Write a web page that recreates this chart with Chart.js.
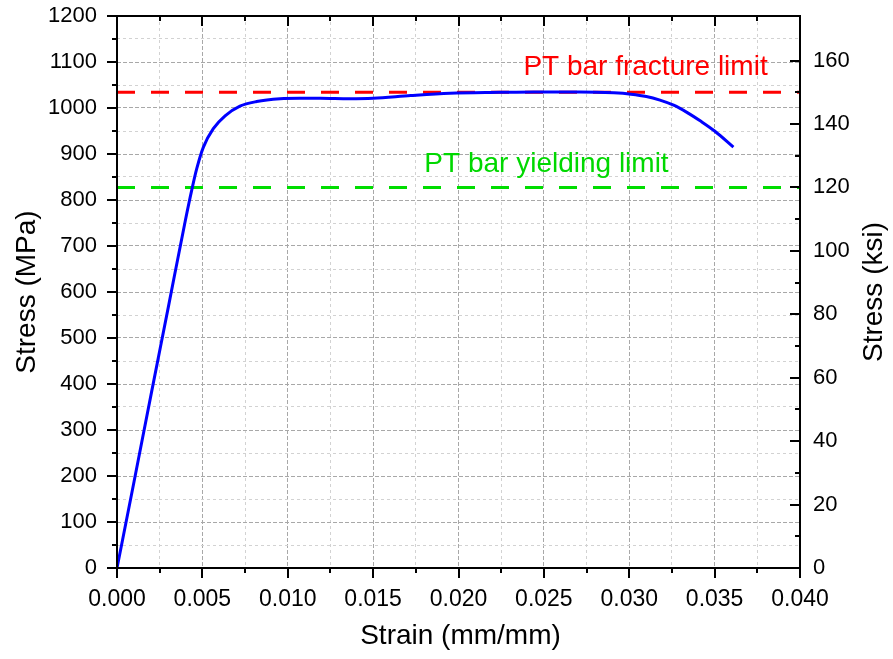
<!DOCTYPE html>
<html>
<head>
<meta charset="utf-8">
<title>Stress-strain curve</title>
<script src="https://cdn.jsdelivr.net/npm/chart.js@4.4.1/dist/chart.umd.min.js"></script>
<style>
  html, body { margin: 0; padding: 0; background: #fff; }
  #wrap { width: 893px; height: 659px; position: relative; }
</style>
</head>
<body>
<div id="wrap"><canvas id="stressChart"></canvas></div>
<script>
// ---- data ----
const strain = [0, 0.0010, 0.0020, 0.0030, 0.0040, 0.00438, 0.00467, 0.00506, 0.00564, 0.00633,
                0.0072, 0.00818, 0.00955, 0.0107, 0.0119, 0.0136, 0.0150, 0.0172, 0.0195, 0.0224,
                0.0244, 0.0271, 0.0291, 0.0301, 0.0310, 0.0318, 0.0326, 0.0334, 0.0342, 0.0350, 0.0361];
const stressMPa = [0, 188, 378, 566, 755, 822, 868, 915, 955, 983,
                   1004, 1014, 1020, 1021, 1021, 1020, 1021, 1027, 1032, 1034,
                   1035, 1035, 1033, 1030, 1025, 1017, 1006, 990, 971, 950, 915];

const MPA_PER_KSI = 6.894757;
const fractureLimitKsi = 150;
const yieldLimitKsi = 120;
const limitStrain = [0, 0.04];

const xMajorTicks = [0, 0.005, 0.010, 0.015, 0.020, 0.025, 0.030, 0.035, 0.040];
const yMajorTicks = [0, 100, 200, 300, 400, 500, 600, 700, 800, 900, 1000, 1100, 1200];
const ksiMajorTicks = [0, 20, 40, 60, 80, 100, 120, 140, 160];

const FONT = "'Liberation Sans', Arial, sans-serif";
const GRID_MAJOR = '#a8a8a8';
const GRID_MINOR = '#d2d2d2';

const onList = (list, v, tol) => list.some(m => Math.abs(m - v) < tol);

const curvePoints = strain.map((s, i) => ({ x: s, y: stressMPa[i] }));
const limitLine = ksi => limitStrain.map(s => ({ x: s, y: ksi * MPA_PER_KSI }));

// ---- frame, ticks, titles and labels ----
const frameAndText = {
    id: 'frameAndText',
    afterDatasetsDraw(chart) {
        const { ctx, scales: { x, y } } = chart;
        ctx.save();
        ctx.font = '28px ' + FONT;
        ctx.textBaseline = 'alphabetic';
        ctx.textAlign = 'left';
        ctx.fillStyle = '#ff0000';
        ctx.fillText('PT bar fracture limit', x.getPixelForValue(0.0238), y.getPixelForValue(1072));
        ctx.fillStyle = '#00d800';
        ctx.fillText('PT bar yielding limit', x.getPixelForValue(0.0180), y.getPixelForValue(861));
        ctx.restore();
    },
    afterDraw(chart) {
        const { ctx, chartArea: a, scales: { x, y, y2 } } = chart;
        ctx.save();
        ctx.strokeStyle = '#000';
        ctx.lineWidth = 2;
        ctx.lineCap = 'butt';
        ctx.beginPath();
        // bottom (outward) and top (inward) ticks
        x.ticks.forEach(t => {
            const px = Math.round(x.getPixelForValue(t.value));
            const len = onList(xMajorTicks, t.value, 1e-7) ? 10 : 5;
            ctx.moveTo(px, a.bottom); ctx.lineTo(px, a.bottom + len);
            ctx.moveTo(px, a.top); ctx.lineTo(px, a.top + len);
        });
        // left ticks (outward)
        y.ticks.forEach(t => {
            const py = Math.round(y.getPixelForValue(t.value));
            const len = onList(yMajorTicks, t.value, 1e-6) ? 10 : 5;
            ctx.moveTo(a.left, py); ctx.lineTo(a.left - len, py);
        });
        // right ticks (inward, ksi)
        y2.ticks.forEach(t => {
            if (Math.abs(t.value / 10 - Math.round(t.value / 10)) > 1e-6) return;
            const py = Math.round(y2.getPixelForValue(t.value));
            const len = onList(ksiMajorTicks, t.value, 1e-6) ? 10 : 5;
            ctx.moveTo(a.right, py); ctx.lineTo(a.right - len, py);
        });
        ctx.stroke();
        ctx.strokeRect(a.left, a.top, a.right - a.left, a.bottom - a.top);

        // axis titles
        ctx.fillStyle = '#000';
        ctx.font = '28px ' + FONT;
        ctx.textAlign = 'center';
        ctx.textBaseline = 'middle';
        const midY = (a.top + a.bottom) / 2;
        ctx.fillText('Strain (mm/mm)', (a.left + a.right) / 2 + 2, 636);
        [[27, 'Stress (MPa)'], [874, 'Stress (ksi)']].forEach(([cx, txt]) => {
            ctx.save();
            ctx.translate(cx, midY);
            ctx.rotate(-Math.PI / 2);
            ctx.fillText(txt, 0, 0);
            ctx.restore();
        });
        ctx.restore();
    }
};

const gridColor = (list, tol) => c => (c.tick && onList(list, c.tick.value, tol)) ? GRID_MAJOR : GRID_MINOR;
const gridDash = (list, tol) => c => (c.tick && onList(list, c.tick.value, tol)) ? [4, 2] : [3, 3];

// keep the plot box where the reference has it
const fitVertical = w => s => { s.width = w; s.paddingTop = 0; s.paddingBottom = 0; };

new Chart(document.getElementById('stressChart'), {
    type: 'line',
    data: {
        datasets: [
            {
                label: 'Stress',
                data: curvePoints,
                borderColor: '#0000ff',
                borderWidth: 3,
                pointRadius: 0,
                cubicInterpolationMode: 'monotone',
                order: 0
            },
            {
                label: 'PT bar fracture limit',
                data: limitLine(fractureLimitKsi),
                borderColor: '#ff0000',
                borderWidth: 3,
                borderDash: [18, 16],
                pointRadius: 0,
                order: 1
            },
            {
                label: 'PT bar yielding limit',
                data: limitLine(yieldLimitKsi),
                borderColor: '#00dd00',
                borderWidth: 3,
                borderDash: [18, 16],
                pointRadius: 0,
                order: 1
            }
        ]
    },
    options: {
        responsive: true,
        maintainAspectRatio: false,
        animation: false,
        layout: { padding: { top: 16, left: 0, right: 0, bottom: 0 } },
        plugins: { legend: { display: false }, tooltip: { enabled: false } },
        scales: {
            x: {
                type: 'linear',
                position: 'bottom',
                min: 0,
                max: 0.04,
                afterFit(s) { s.height = 91; s.paddingLeft = 0; s.paddingRight = 0; },
                grid: { color: gridColor(xMajorTicks, 1e-7), drawTicks: false, lineWidth: 1 },
                border: { display: false, dash: gridDash(xMajorTicks, 1e-7) },
                ticks: {
                    stepSize: 0.0025,
                    autoSkip: false,
                    maxRotation: 0,
                    padding: 18,
                    color: '#000',
                    font: { family: FONT, size: 23 },
                    callback: v => onList(xMajorTicks, v, 1e-7) ? v.toFixed(3) : ''
                }
            },
            y: {
                type: 'linear',
                position: 'left',
                min: 0,
                max: 1200,
                afterFit: fitVertical(117),
                grid: { color: gridColor(yMajorTicks, 1e-6), drawTicks: false, lineWidth: 1 },
                border: { display: false, dash: gridDash(yMajorTicks, 1e-6) },
                ticks: {
                    stepSize: 50,
                    autoSkip: false,
                    padding: 20,
                    color: '#000',
                    font: { family: FONT, size: 22 },
                    callback: v => onList(yMajorTicks, v, 1e-6) ? String(v) : ''
                }
            },
            y2: {
                type: 'linear',
                position: 'right',
                min: 0,
                max: 1200 / MPA_PER_KSI,
                afterFit: fitVertical(93),
                grid: { display: false, drawTicks: false },
                border: { display: false },
                ticks: {
                    stepSize: 10,
                    autoSkip: false,
                    padding: 13,
                    color: '#000',
                    font: { family: FONT, size: 22 },
                    callback: v => onList(ksiMajorTicks, v, 1e-6) ? String(v) : ''
                }
            }
        }
    },
    plugins: [frameAndText]
});
</script>
</body>
</html>
